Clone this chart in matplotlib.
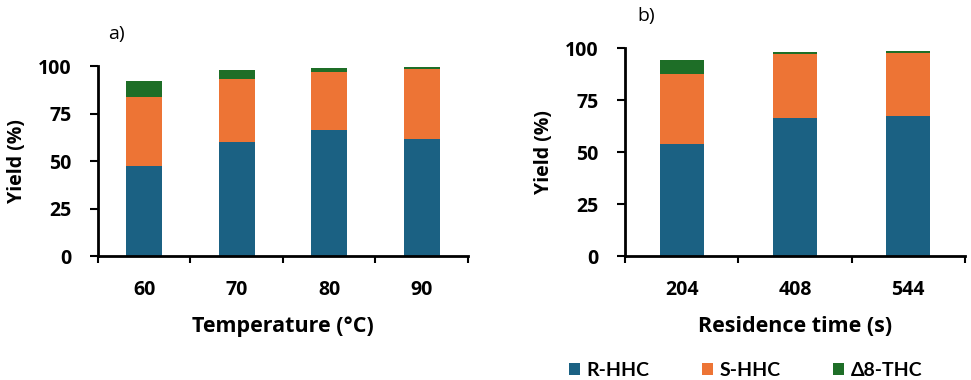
import numpy as np
import matplotlib
matplotlib.use("Agg")
import matplotlib.pyplot as plt

# data
temps = ["60", "70", "80", "90"]
r_hhc_t = [47.5, 59.8, 66.5, 61.5]
s_hhc_t = [36.0, 33.4, 30.2, 37.0]
d8_thc_t = [8.5, 5.0, 2.1, 1.0]

times = ["204", "408", "544"]
r_hhc_r = [53.7, 66.5, 67.5]
s_hhc_r = [33.8, 30.5, 30.0]
d8_thc_r = [6.9, 1.2, 1.2]

names = ["R-HHC", "S-HHC", "Δ8-THC"]
colors = ["#1b6183", "#ed7435", "#1e6e27"]

plt.rcParams['font.family'] = ['Open Sans', 'DejaVu Sans']
plt.rcParams['font.weight'] = 'bold'

fig = plt.figure(figsize=(9.71, 3.8), dpi=100)
ax1 = fig.add_axes([0.1009, 0.326, 0.381, 0.5])
ax2 = fig.add_axes([0.6437, 0.326, 0.350, 0.547])


def draw(ax, cats, r, s, d, xlabel):
    x = np.arange(len(cats))
    w = 0.39
    ax.bar(x, r, w, color=colors[0], label=names[0])
    ax.bar(x, s, w, bottom=r, color=colors[1], label=names[1])
    ax.bar(x, d, w, bottom=np.array(r) + np.array(s), color=colors[2], label=names[2])
    ax.set_xlim(-0.5, len(cats) - 0.5)
    ax.set_ylim(0, 100)
    ax.set_yticks([0, 25, 50, 75, 100])
    ax.set_xticks(np.arange(len(cats) + 1) - 0.5)
    ax.set_xticklabels([])
    ax.set_xticks(x, minor=True)
    ax.set_xticklabels(cats, minor=True, fontsize=14, fontweight='bold')
    ax.tick_params(axis='x', which='major', length=5, width=1.5, direction='out')
    ax.tick_params(axis='x', which='minor', length=0, pad=17)
    ax.tick_params(axis='y', length=6, width=1.5, labelsize=14, pad=13)
    for lab in ax.get_yticklabels():
        lab.set_fontweight('bold')
    for sp in ['top', 'right']:
        ax.spines[sp].set_visible(False)
    for sp in ['left', 'bottom']:
        ax.spines[sp].set_linewidth(2)
    ax.set_ylabel("Yield (%)", fontsize=14, fontweight='bold', labelpad=8)
    ax.set_xlabel(xlabel, fontsize=15.5, fontweight='bold', labelpad=12)


draw(ax1, temps, r_hhc_t, s_hhc_t, d8_thc_t, "Temperature (°C)")
draw(ax2, times, r_hhc_r, s_hhc_r, d8_thc_r, "Residence time (s)")

fig.text(0.111, 1 - 34 / 380, "a)", fontsize=14, fontweight='normal', va='center')
fig.text(0.656, 1 - 16 / 380, "b)", fontsize=14, fontweight='normal', va='center')

handles, labels = ax2.get_legend_handles_labels()
fig.legend(handles, labels, ncol=3, loc='center', bbox_to_anchor=(0.768, 0.026),
           frameon=False, handlelength=0.55, handleheight=0.55,
           handletextpad=0.36, columnspacing=2.7, borderpad=0,
           prop={'family': ['Lato', 'DejaVu Sans'], 'weight': 'bold', 'size': 14})

fig.savefig("out.png", dpi=100)
